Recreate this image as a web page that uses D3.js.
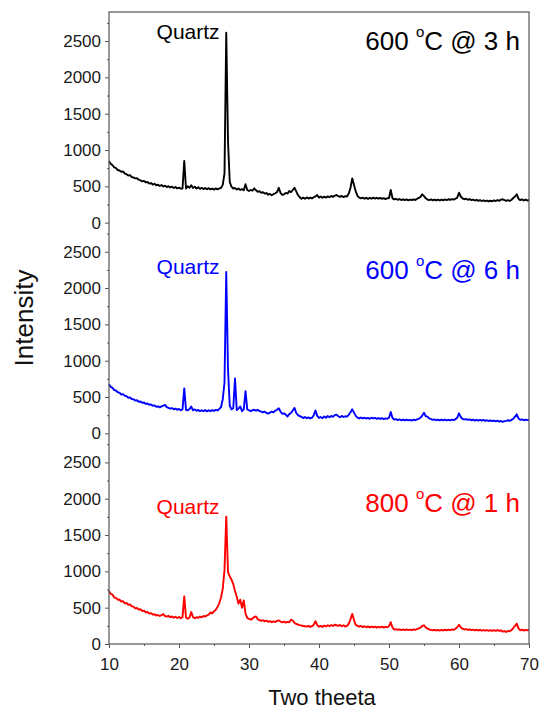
<!DOCTYPE html>
<html>
<head>
<meta charset="utf-8">
<script src="https://cdn.jsdelivr.net/npm/d3@7"></script>
<style>
body { margin: 0; background: #fff; }
svg { display: block; font-family: "Liberation Sans", Arial, sans-serif; }
</style>
</head>
<body>
<svg id="chart" width="541" height="709"></svg>
<script>
// XRD scans, 10-70 deg two theta, 0.25 deg step
var twoTheta = d3.range(10, 70.001, 0.25);

var int600_3h = [
	845, 810, 790, 760, 752, 725, 718, 700, 705, 675, 668, 650, 655, 628, 622, 610, 612, 590, 585, 568,
	575, 555, 560, 538, 545, 525, 535, 515, 522, 505, 518, 498, 510, 490, 502, 485, 495, 478, 490, 472,
	482, 468, 470, 850, 470, 500, 480, 515, 478, 495, 470, 488, 465, 480, 462, 478, 460, 475, 458, 470,
	455, 472, 458, 470, 478, 520, 680, 2615, 1120, 560, 495, 470, 478, 455, 470, 450, 462, 445, 530, 450,
	435, 450, 440, 472, 445, 425, 432, 410, 420, 400, 408, 385, 395, 378, 392, 405, 420, 480, 410, 382,
	390, 410, 400, 435, 420, 450, 480, 430, 380, 350, 328, 345, 330, 348, 332, 345, 335, 350, 362, 380,
	345, 360, 342, 358, 345, 362, 350, 368, 355, 372, 380, 365, 355, 368, 352, 365, 360, 400, 480, 610,
	520, 430, 370, 345, 335, 345, 330, 342, 328, 340, 330, 345, 332, 342, 330, 340, 328, 338, 325, 336,
	340, 450, 335, 320, 328, 315, 325, 312, 322, 310, 320, 308, 318, 310, 322, 312, 328, 340, 355, 390,
	365, 335, 318, 310, 320, 308, 318, 306, 316, 305, 318, 308, 320, 310, 322, 315, 325, 318, 330, 345,
	412, 360, 335, 322, 330, 315, 325, 310, 318, 305, 315, 300, 310, 298, 308, 295, 305, 292, 302, 295,
	308, 298, 312, 300, 318, 322, 310, 300, 310, 298, 315, 340, 360, 390, 330, 310, 322, 305, 318, 305,
	312
];

var int600_6h = [
	675, 640, 625, 595, 590, 565, 560, 535, 540, 518, 512, 490, 495, 472, 470, 452, 455, 435, 438, 420,
	425, 405, 410, 392, 398, 380, 385, 365, 372, 358, 370, 380, 392, 360, 350, 340, 348, 330, 340, 325,
	335, 318, 330, 618, 322, 318, 335, 368, 318, 330, 310, 322, 305, 318, 305, 320, 302, 318, 305, 320,
	308, 322, 315, 335, 360, 470, 700, 2220, 880, 380, 330, 345, 755, 320, 340, 370, 305, 330, 581, 330,
	318, 305, 318, 325, 312, 325, 305, 300, 290, 298, 280, 272, 285, 300, 290, 310, 325, 345, 300, 270,
	275, 258, 232, 265, 280, 315, 350, 280, 250, 235, 228, 210, 225, 208, 220, 205, 215, 250, 315, 240,
	212, 225, 210, 232, 215, 238, 222, 240, 228, 250, 258, 235, 222, 240, 225, 235, 230, 255, 290, 330,
	285, 240, 215, 205, 218, 205, 215, 202, 212, 200, 215, 205, 212, 200, 210, 198, 208, 196, 206, 200,
	215, 295, 210, 190, 195, 182, 192, 180, 190, 178, 188, 178, 186, 176, 188, 180, 192, 200, 215, 245,
	284, 235, 230, 205, 195, 185, 192, 180, 188, 178, 190, 180, 188, 178, 186, 180, 190, 182, 195, 215,
	275, 225, 200, 192, 196, 185, 192, 180, 188, 176, 186, 175, 185, 174, 184, 172, 180, 170, 178, 168,
	176, 165, 174, 162, 170, 158, 168, 172, 180, 172, 185, 200, 230, 261, 205, 185, 192, 180, 190, 182,
	183
];

var int800_1h = [
	730, 690, 680, 640, 635, 610, 612, 585, 590, 560, 565, 540, 545, 518, 515, 490, 495, 475, 478, 455,
	460, 438, 440, 420, 425, 405, 410, 392, 400, 385, 398, 412, 385, 378, 388, 368, 380, 362, 375, 358,
	372, 355, 370, 655, 362, 348, 365, 440, 370, 355, 368, 360, 378, 368, 385, 378, 395, 405, 435, 420,
	450, 470, 510, 560, 640, 760, 1020, 1754, 990, 930, 885, 825, 730, 650, 555, 610, 500, 600, 420, 360,
	345, 335, 350, 372, 380, 340, 330, 318, 328, 312, 322, 305, 315, 300, 312, 302, 318, 325, 310, 298,
	308, 295, 305, 300, 335, 320, 290, 275, 268, 260, 255, 248, 245, 240, 250, 235, 245, 265, 315, 260,
	238, 250, 235, 255, 240, 258, 245, 262, 248, 265, 258, 250, 262, 245, 258, 240, 250, 280, 340, 415,
	330, 262, 250, 238, 248, 232, 245, 230, 242, 228, 240, 228, 238, 226, 236, 228, 238, 225, 235, 230,
	245, 300, 225, 198, 205, 195, 202, 192, 200, 190, 200, 192, 198, 190, 202, 195, 205, 215, 225, 248,
	258, 228, 212, 200, 195, 188, 196, 186, 195, 185, 194, 186, 196, 188, 198, 190, 200, 195, 210, 230,
	266, 230, 210, 200, 205, 196, 202, 192, 198, 188, 196, 186, 194, 185, 192, 184, 192, 182, 190, 180,
	190, 182, 192, 180, 188, 170, 178, 165, 180, 175, 192, 220, 250, 280, 215, 188, 198, 185, 195, 188,
	197
];

var xTicks = [10, 20, 30, 40, 50, 60, 70];
var yTicks = [0, 500, 1000, 1500, 2000, 2500];
var titleTemp = ["600", "600", "800"];
var titleTime = ["3 h", "6 h", "1 h"];

var series = [int600_3h, int600_6h, int800_1h],
	colors = ["#000000", "#0000ff", "#ff0000"],
	// label spots in data units of each panel
	labelAt = [
		{title: 2378, quartz: 2529},
		{title: 2124, quartz: 2193},
		{title: 1817, quartz: 1786}
	];

var svg = d3.select("#chart"),
	plotL = 109, plotR = 529, plotT = 12, plotB = 644,
	ph = (plotB - plotT) / 3,
	axisColor = "#555",
	tickFont = "Liberation Sans, Arial, sans-serif";

var x = d3.scaleLinear().domain([10, 70]).range([plotL, plotR]);

series.forEach(function (vals, i) {
	var pTop = plotT + i * ph;
	var y = d3.scaleLinear().domain([0, 2900]).range([pTop + ph, pTop]);
	var g = svg.append("g");

	var line = d3.line()
		.x(function (d, j) { return x(twoTheta[j]); })
		.y(function (d) { return y(d); });

	g.append("path")
		.datum(vals)
		.attr("d", line)
		.attr("fill", "none")
		.attr("stroke", colors[i])
		.attr("stroke-width", 1.9)
		.attr("stroke-linejoin", "round");

	// y axis, major + minor
	var ya = g.append("g")
		.attr("transform", "translate(" + plotL + ",0)")
		.call(d3.axisLeft(y).tickValues(yTicks).tickSize(4).tickPadding(4).tickFormat(d3.format("d")));
	var ym = g.append("g")
		.attr("transform", "translate(" + plotL + ",0)")
		.call(d3.axisLeft(y).tickValues(d3.range(250, 2900, 500)).tickSize(2).tickFormat(""));
	[ya, ym].forEach(function (a) {
		a.select(".domain").remove();
		a.selectAll("line").attr("stroke", axisColor);
	});
	ya.attr("font-size", 17).attr("font-family", tickFont);
	ya.selectAll("text").attr("fill", "#1a1a1a");

	// sample label
	var t = g.append("text")
		.attr("x", 520)
		.attr("y", y(labelAt[i].title))
		.attr("text-anchor", "end")
		.attr("font-size", 26)
		.attr("fill", colors[i]);
	t.append("tspan").text(titleTemp[i] + " ");
	t.append("tspan").attr("font-size", 15).attr("dy", -13).text("o");
	t.append("tspan").attr("dy", 13).text("C @ " + titleTime[i]);

	g.append("text")
		.attr("x", x(25.8))
		.attr("y", y(labelAt[i].quartz))
		.attr("text-anchor", "end")
		.attr("font-size", 21)
		.attr("fill", colors[i])
		.text("Quartz");
});

// x axis
var xa = svg.append("g")
	.attr("transform", "translate(0," + plotB + ")")
	.call(d3.axisBottom(x).tickValues(xTicks).tickSize(4).tickPadding(10));
var xm = svg.append("g")
	.attr("transform", "translate(0," + plotB + ")")
	.call(d3.axisBottom(x).tickValues(d3.range(15, 70, 10)).tickSize(2).tickFormat(""));
[xa, xm].forEach(function (a) {
	a.select(".domain").remove();
	a.selectAll("line").attr("stroke", axisColor);
});
xa.attr("font-size", 17).attr("font-family", tickFont);
xa.selectAll("text").attr("fill", "#1a1a1a");

// frame
svg.append("rect")
	.attr("x", plotL)
	.attr("y", plotT)
	.attr("width", plotR - plotL)
	.attr("height", plotB - plotT)
	.attr("fill", "none")
	.attr("stroke", axisColor)
	.attr("stroke-width", 1.2);

svg.append("text")
	.attr("transform", "translate(33,318) rotate(-90)")
	.attr("text-anchor", "middle")
	.attr("font-size", 26)
	.attr("fill", "#111")
	.text("Intensity");

svg.append("text")
	.attr("x", 322)
	.attr("y", 705)
	.attr("text-anchor", "middle")
	.attr("font-size", 22)
	.attr("fill", "#111")
	.text("Two theeta");
</script>
</body>
</html>
